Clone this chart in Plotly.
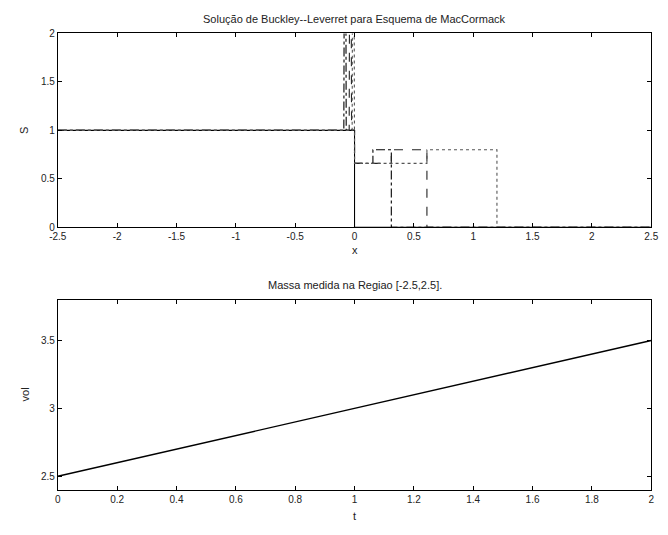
import plotly.graph_objects as go

# ---- Top panel: Buckley-Leverett, MacCormack scheme (step profiles) ----
x_init = [-2.5, 0.0, 0.0, 2.5]
s_init = [1.0, 1.0, 0.0, 0.0]

x_t1 = [-2.5, -0.09, -0.08, -0.07, 0.0, 0.0, 0.155, 0.155, 0.31, 0.31, 2.5]
s_t1 = [1.0, 1.0, 6.0, 1.0, 1.0, 0.66, 0.66, 0.80, 0.80, 0.0, 0.0]

x_t2 = [-2.5, -0.045, -0.035, -0.025, 0.0, 0.0, 0.31, 0.31, 0.61, 0.61, 2.5]
s_t2 = [1.0, 1.0, 6.0, 1.0, 1.0, 0.66, 0.66, 0.80, 0.80, 0.0, 0.0]

x_t3 = [-2.5, -0.02, -0.01, 0.0, 0.0, 0.0, 0.61, 0.61, 1.2, 1.2, 2.5]
s_t3 = [1.0, 1.0, 6.0, 1.0, 1.0, 0.66, 0.66, 0.80, 0.80, 0.0, 0.0]

top_ticks = [-2.5, -2, -1.5, -1, -0.5, 0, 0.5, 1, 1.5, 2, 2.5]
top_ticklabels = ["-2.5", "-2", "-1.5", "-1", "-0.5", "0", "0.5", "1", "1.5", "2", "2.5"]
s_ticks = [0, 0.5, 1, 1.5, 2]
s_ticklabels = ["0", "0.5", "1", "1.5", "2"]

# ---- Bottom panel: mass in region [-2.5, 2.5] ----
t_vals = [0.0, 0.1, 0.2, 0.3, 0.4, 0.5, 0.6, 0.7, 0.8, 0.9, 1.0,
          1.1, 1.2, 1.3, 1.4, 1.5, 1.6, 1.7, 1.8, 1.9, 2.0]
vol_vals = [2.50, 2.55, 2.60, 2.65, 2.70, 2.75, 2.80, 2.85, 2.90, 2.95, 3.00,
            3.05, 3.10, 3.15, 3.20, 3.25, 3.30, 3.35, 3.40, 3.45, 3.50]
t_ticks = [0, 0.2, 0.4, 0.6, 0.8, 1, 1.2, 1.4, 1.6, 1.8, 2]
t_ticklabels = ["0", "0.2", "0.4", "0.6", "0.8", "1", "1.2", "1.4", "1.6", "1.8", "2"]
vol_ticks = [2.5, 3, 3.5]
vol_ticklabels = ["2.5", "3", "3.5"]

W, H = 668, 535
FONT = "Liberation Sans, Arial, sans-serif"

fig = go.Figure()
lw = 1.1
fig.add_trace(go.Scatter(x=x_init, y=s_init, mode="lines", line=dict(color="black", width=lw, dash="solid"), xaxis="x", yaxis="y"))
fig.add_trace(go.Scatter(x=x_t1, y=s_t1, mode="lines", line=dict(color="black", width=lw, dash="dashdot"), xaxis="x", yaxis="y"))
fig.add_trace(go.Scatter(x=x_t2, y=s_t2, mode="lines", line=dict(color="#222222", width=lw, dash="dash"), xaxis="x", yaxis="y"))
fig.add_trace(go.Scatter(x=x_t3, y=s_t3, mode="lines", line=dict(color="#555555", width=lw, dash="dot"), xaxis="x", yaxis="y"))
fig.add_trace(go.Scatter(x=t_vals, y=vol_vals, mode="lines", line=dict(color="black", width=1.4), xaxis="x2", yaxis="y2"))

xdom = [50 / W, 658 / W]
top_dom = [1 - 227 / H, 1 - 29 / H]
bot_dom = [1 - 495 / H, 1 - 301 / H]

axis_common = dict(showline=True, linecolor="black", linewidth=1, mirror="ticks",
                   ticks="inside", ticklen=4, tickcolor="black", showgrid=False,
                   zeroline=False, tickfont=dict(family=FONT, size=10, color="#222"))

fig.update_layout(
    width=W, height=H, margin=dict(l=0, r=0, t=0, b=0),
    paper_bgcolor="white", plot_bgcolor="white", showlegend=False,
    xaxis=dict(domain=xdom, anchor="y", range=[-2.5, 2.5], tickvals=top_ticks, ticktext=top_ticklabels, **axis_common),
    yaxis=dict(domain=top_dom, anchor="x", range=[0, 2], tickvals=s_ticks, ticktext=s_ticklabels, **axis_common),
    xaxis2=dict(domain=xdom, anchor="y2", range=[0, 2], tickvals=t_ticks, ticktext=t_ticklabels, **axis_common),
    yaxis2=dict(domain=bot_dom, anchor="x2", range=[2.4, 3.8], tickvals=vol_ticks, ticktext=vol_ticklabels, **axis_common),
)

def ann(text, x, y, size=11, angle=0):
    fig.add_annotation(text=text, x=x / W, y=1 - y / H, xref="paper", yref="paper",
                       showarrow=False, textangle=angle, xanchor="center", yanchor="middle",
                       font=dict(family=FONT, size=size, color="#222"))

ann("Solução de Buckley--Leverret para Esquema de MacCormack", 354, 14)
ann("x", 354, 250)
ann("S", 16, 128, angle=-90)
ann("Massa medida na Regiao [-2.5,2.5].", 354, 286)
ann("t", 354, 522)
ann("vol", 16, 398, angle=-90)

fig.write_html("out.html")
